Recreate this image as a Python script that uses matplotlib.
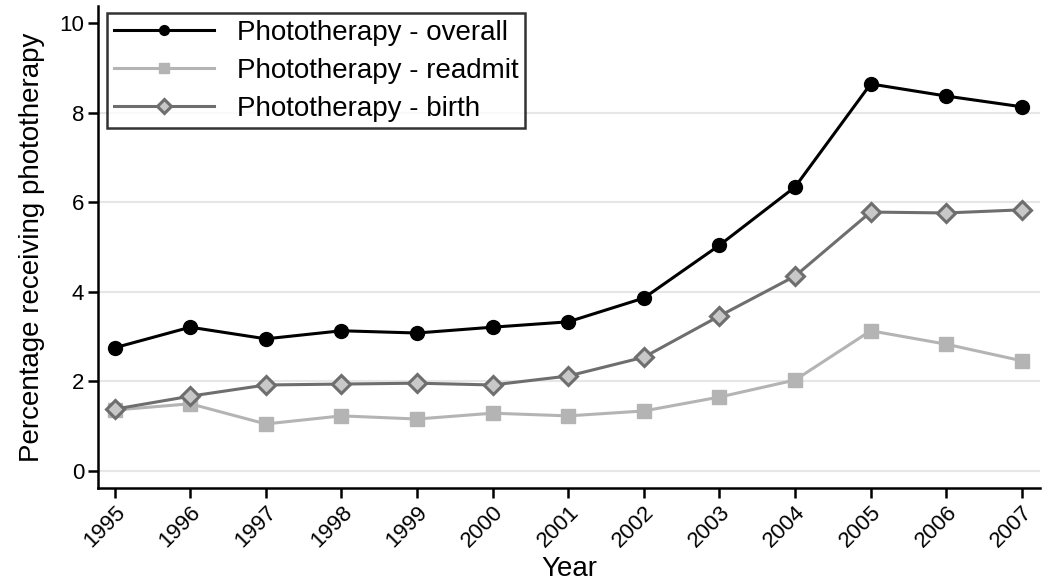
import matplotlib
matplotlib.use('Agg')
import matplotlib.pyplot as plt

# Data
years = [1995, 1996, 1997, 1998, 1999, 2000, 2001, 2002, 2003, 2004, 2005, 2006, 2007]
overall = [2.75, 3.21, 2.95, 3.13, 3.08, 3.21, 3.33, 3.86, 5.04, 6.34, 8.64, 8.37, 8.13]
readmit = [1.36, 1.50, 1.05, 1.23, 1.16, 1.29, 1.23, 1.34, 1.65, 2.03, 3.13, 2.83, 2.46]
birth = [1.38, 1.67, 1.92, 1.94, 1.96, 1.92, 2.12, 2.54, 3.46, 4.35, 5.78, 5.76, 5.83]
yticks = [0, 2, 4, 6, 8, 10]

plt.rcParams['font.family'] = ['Liberation Sans', 'DejaVu Sans']

fig = plt.figure(figsize=(10.5, 5.83), dpi=100)
ax = fig.add_axes([98 / 1050, 1 - 488 / 583, (1040 - 98) / 1050, (488 - 6) / 583])

for y in [0, 2, 4, 6, 8]:
    ax.axhline(y, color='#e6e6e6', lw=1.5, zorder=0)

ax.plot(years, overall, color='black', lw=2.2, marker='o', ms=10,
        label='Phototherapy - overall')
ax.plot(years, readmit, color='#b4b4b4', lw=2.2, marker='s', ms=10,
        label='Phototherapy - readmit')
ax.plot(years, birth, color='#6e6e6e', lw=2.2, marker='D', ms=9.5,
        mfc='#c8c8c8', mec='#6e6e6e', mew=2.2, label='Phototherapy - birth')

ax.set_xlim(1994.78, 2007.24)
ax.set_ylim(-0.38, 10.38)
ax.set_xticks(years)
ax.set_xticklabels([str(y) for y in years], rotation=45, ha='right',
                   rotation_mode='anchor', fontsize=16)
ax.set_yticks(yticks)
ax.set_yticklabels([str(y) for y in yticks], fontsize=16)
ax.tick_params(axis='both', length=7, width=1.8, pad=3)
ax.spines['top'].set_visible(False)
ax.spines['right'].set_visible(False)
ax.spines['left'].set_linewidth(1.8)
ax.spines['bottom'].set_linewidth(1.8)

ax.set_xlabel('Year', fontsize=20, labelpad=3)
ax.set_ylabel('Percentage receiving phototherapy', fontsize=20, labelpad=10)

leg = ax.legend(loc='upper left', bbox_to_anchor=(0.01, 0.985), fontsize=20,
                handlelength=3.6, frameon=True, fancybox=False,
                edgecolor='black', borderpad=0.25, labelspacing=0.42,
                handletextpad=0.8, borderaxespad=0)
leg.get_frame().set_linewidth(1.8)
for h in leg.legend_handles:
    h.set_markersize(7)

fig.savefig('out.png', dpi=100)
